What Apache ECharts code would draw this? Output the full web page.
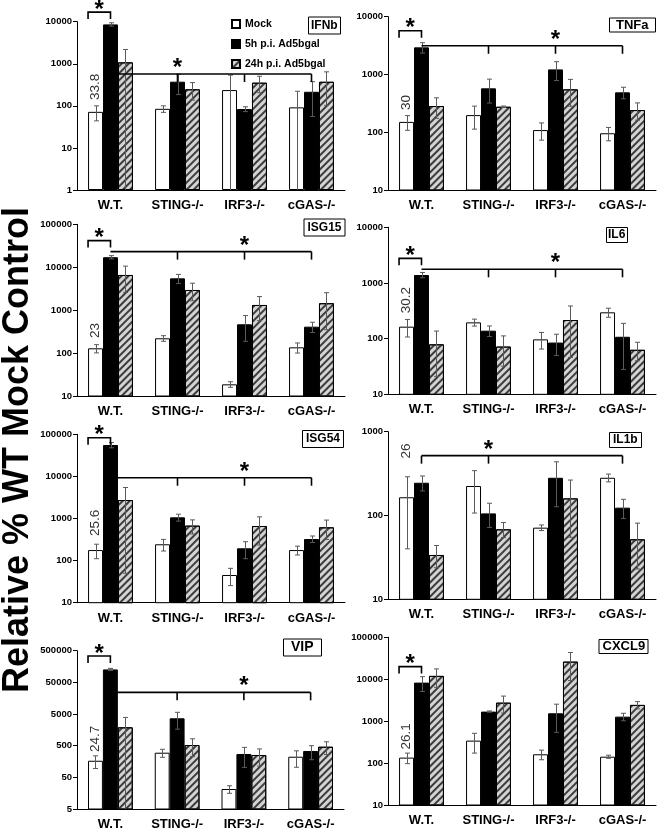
<!DOCTYPE html>
<html><head><meta charset="utf-8">
<script src="https://cdn.jsdelivr.net/npm/echarts@6/dist/echarts.min.js"></script>
<style>html,body{margin:0;padding:0;background:#fff}#c{width:660px;height:831px}</style>
</head><body><div id="c"></div>
<script>
const FONT = '"Liberation Sans", Arial, sans-serif';
const categories = ['W.T.', 'STING-/-', 'IRF3-/-', 'cGAS-/-'];
const seriesNames = ['Mock', '5h p.i. Ad5bgal', '24h p.i. Ad5bgal'];

// rows: Mock, 5h, 24h ; columns: categories
const IFNb_mean = [[72, 85, 237, 92], [8630, 375, 84, 216], [1080, 247, 355, 373]];
const IFNb_err  = [[28, 15, 300, 130], [800, 190, 11, 160], [1100, 110, 150, 270]];
const TNFa_mean = [[151, 198, 109, 96], [2945, 575, 1225, 490], [284, 276, 552, 242]];
const TNFa_err  = [[43, 85, 36, 25], [600, 255, 440, 110], [110, 8, 270, 80]];
const ISG15_mean = [[129, 221, 18.7, 136], [17100, 5500, 468, 412], [6600, 2950, 1320, 1450]];
const ISG15_err  = [[28, 33, 2.8, 36], [1500, 1300, 280, 110], [4000, 1300, 750, 1100]];
const IL6_mean = [[164, 196, 97, 297], [1390, 139, 85, 108], [79, 72, 216, 63]];
const IL6_err  = [[57, 28, 32, 55], [150, 30, 35, 80], [58, 40, 170, 23]];
const ISG54_mean = [[178, 244, 45.5, 178], [55700, 1066, 196, 326], [2750, 677, 664, 617]];
const ISG54_err  = [[67, 75, 20, 42], [8000, 200, 85, 58], [2700, 250, 430, 300]];
const IL1b_mean = [[165, 225, 71.6, 282], [246, 106, 282, 124], [33.8, 68.4, 160, 52]];
const IL1b_err  = [[125, 118, 5.5, 30], [50, 34, 155, 32], [10, 14, 105, 29]];
const VIP_mean = [[167, 300, 21.4, 224], [128000, 3660, 273, 340], [1900, 525, 254, 463]];
const VIP_err  = [[72, 85, 5.7, 120], [10000, 2000, 170, 160], [2000, 300, 140, 200]];
const CXCL9_mean = [[135, 343, 162, 142], [8300, 1690, 1540, 1280], [12000, 2760, 26300, 2440]];
const CXCL9_err  = [[38, 170, 42, 12], [3200, 60, 1000, 260], [5600, 1200, 17000, 480]];

// y tick labels
const IFNb_ticks = [1, 10, 100, 1000, 10000];
const TNFa_ticks = [10, 100, 1000, 10000];
const ISG15_ticks = [10, 100, 1000, 10000, 100000];
const IL6_ticks = [10, 100, 1000, 10000];
const ISG54_ticks = [10, 100, 1000, 10000, 100000];
const IL1b_ticks = [10, 100, 1000];
const VIP_ticks = [5, 50, 500, 5000, 50000, 500000];
const CXCL9_ticks = [10, 100, 1000, 10000, 100000];

// annotations (data coordinates)
const foldLabels = ['33.8', '30', '23', '30.2', '25.6', '26', '24.7', '26.1'];
const foldLabelBase = [137, 242, 225, 285, 384, 480, 315, 210];
const pairBracketLevel = [16900, 5700, 41700, 2770, 83000, null, 339000, 20000];
const groupBracketLevel = [570, 3140, 23100, 1760, 9310, 518, 24200, null];
const groupBracketDrops = [[1, 2, 3], [1, 2, 3], [1, 2, 3], [1, 2, 3], [1, 2, 3], [0, 1, 3], [1, 2, 3], null];
const groupStarCat = [1.14, 2, 2, 2, 2, 1.27, 2, null];

const panels = [
  {name: 'IFNb', mean: IFNb_mean, err: IFNb_err, ticks: IFNb_ticks, grid: {left: 77, top: 21.7, width: 268, height: 168.3}, t: {left: 308, top: 17, fs: 12, pad: [1.5, 3]}},
  {name: 'TNFa', mean: TNFa_mean, err: TNFa_err, ticks: TNFa_ticks, grid: {left: 388, top: 16.7, width: 268, height: 173.3}, t: {left: 609, top: 17.5, fs: 13, pad: [0, 7]}},
  {name: 'ISG15', mean: ISG15_mean, err: ISG15_err, ticks: ISG15_ticks, grid: {left: 77, top: 224.3, width: 268, height: 171.7}, t: {left: 304, top: 219, fs: 12, pad: [1.5, 3.5]}},
  {name: 'IL6', mean: IL6_mean, err: IL6_err, ticks: IL6_ticks, grid: {left: 388, top: 227.3, width: 268, height: 167}, t: {left: 606, top: 227, fs: 12, pad: [1, 2]}},
  {name: 'ISG54', mean: ISG54_mean, err: ISG54_err, ticks: ISG54_ticks, grid: {left: 77, top: 434.3, width: 268, height: 168.4}, t: {left: 302, top: 430, fs: 12, pad: [2, 4]}},
  {name: 'IL1b', mean: IL1b_mean, err: IL1b_err, ticks: IL1b_ticks, grid: {left: 388, top: 431.7, width: 268, height: 167.6}, t: {left: 609, top: 432, fs: 12, pad: [1, 4]}},
  {name: 'VIP', mean: VIP_mean, err: VIP_err, ticks: VIP_ticks, grid: {left: 77, top: 650.7, width: 267, height: 158.3}, t: {left: 283, top: 639, fs: 14, pad: [0.5, 8]}},
  {name: 'CXCL9', mean: CXCL9_mean, err: CXCL9_err, ticks: CXCL9_ticks, grid: {left: 388, top: 637.3, width: 268, height: 167.7}, t: {left: 599, top: 639, fs: 13, pad: [0, 3.5]}}
];

const CAT_GAP = 0.33;
const barStyles = [
  {color: '#ffffff', borderColor: '#000', borderWidth: 1},
  {color: '#000000', borderColor: '#000', borderWidth: 1},
  {color: '#d4d4d4', borderColor: '#000', borderWidth: 1,
   decal: {symbol: 'rect', symbolSize: 1, color: '#3c3c3c', dashArrayX: [1, 0], dashArrayY: [1.6, 2.2], rotation: -Math.PI / 4}}
];

function geom(api) {
  const a = api.coord([0, 10]), b = api.coord([1, 10]);
  const band = b[0] - a[0];
  return {band: band, bw: band * (1 - CAT_GAP) / 3};
}

function errRender(minVal) {
  return function (params, api) {
    const c = api.value(0), m = api.value(1), e = api.value(2), s = api.value(3);
    const g = geom(api);
    const x = Math.round(api.coord([c, m])[0] + (s - 1) * g.bw) + 0.5;
    const top = api.coord([c, m + e])[1];
    const lowOk = (m - e) > minVal;
    const bot = api.coord([c, lowOk ? m - e : minVal])[1];
    const st = {stroke: '#5a5a5a', lineWidth: 1};
    const cap = 2.5;
    const ch = [
      {type: 'line', shape: {x1: x, y1: top, x2: x, y2: bot}, style: st},
      {type: 'line', shape: {x1: x - cap, y1: top, x2: x + cap, y2: top}, style: st}
    ];
    if (lowOk) ch.push({type: 'line', shape: {x1: x - cap, y1: bot, x2: x + cap, y2: bot}, style: st});
    return {type: 'group', children: ch};
  };
}

function annRender(i) {
  return function (params, api) {
    const g = geom(api);
    const ch = [];
    const lst = {stroke: '#000', lineWidth: 1.6};
    const starFont = 'bold 24px ' + FONT;
    const cx = k => api.coord([k, 10])[0];
    const cy = v => api.coord([0, v])[1];
    if (pairBracketLevel[i] != null) {
      const y = cy(pairBracketLevel[i]);
      const xl = cx(0) - 1.5 * g.bw, xr = cx(0);
      ch.push({type: 'polyline', shape: {points: [[xl, y + 7], [xl, y], [xr, y], [xr, y + 7]]}, style: {stroke: '#000', lineWidth: 1.6, fill: null}});
      ch.push({type: 'text', style: {text: '*', x: (xl + xr) / 2, y: y - 2, textAlign: 'center', textVerticalAlign: 'middle', font: starFont, fill: '#000'}});
    }
    if (groupBracketLevel[i] != null) {
      const y = cy(groupBracketLevel[i]);
      ch.push({type: 'line', shape: {x1: cx(0), y1: y, x2: cx(3), y2: y}, style: lst});
      groupBracketDrops[i].forEach(k => {
        ch.push({type: 'line', shape: {x1: cx(k), y1: y, x2: cx(k), y2: y + 8}, style: lst});
      });
      const sx = api.coord([groupStarCat[i], 10])[0];
      ch.push({type: 'text', style: {text: '*', x: sx, y: y - 5.5, textAlign: 'center', textVerticalAlign: 'middle', font: starFont, fill: '#000'}});
    }
    const lx = cx(0) - g.bw, ly = cy(foldLabelBase[i]);
    ch.push({type: 'text', x: lx, y: ly, rotation: Math.PI / 2,
      style: {text: foldLabels[i], x: 0, y: 0, textAlign: 'left', textVerticalAlign: 'middle', font: '13.5px ' + FONT, fill: '#333'}});
    return {type: 'group', children: ch};
  };
}

const grid = [], xAxis = [], yAxis = [], series = [], title = [];
panels.forEach((p, i) => {
  grid.push(p.grid);
  xAxis.push({type: 'category', gridIndex: i, data: categories,
    axisLine: {lineStyle: {color: '#000', width: 1}},
    axisTick: {length: 4, lineStyle: {color: '#000'}},
    axisLabel: {interval: 0, hideOverlap: false, fontSize: 13, fontWeight: 'bold', color: '#000', margin: 9, fontFamily: FONT}});
  const y = {type: 'log', logBase: 10, gridIndex: i, min: p.ticks[0], max: p.ticks[p.ticks.length - 1],
    axisLine: {show: true, lineStyle: {color: '#000', width: 1}},
    axisTick: {show: true, length: 4, lineStyle: {color: '#000'}},
    splitLine: {show: false},
    axisLabel: {fontSize: 9.5, fontWeight: 'bold', color: '#000', margin: 5, fontFamily: FONT,
      formatter: v => String(Math.round(v))}};
  if (p.name === 'VIP') {
    y.axisLabel.customValues = p.ticks;
    y.axisTick.customValues = p.ticks;
  }
  yAxis.push(y);
  for (let s = 0; s < 3; s++) {
    series.push({type: 'bar', name: seriesNames[s], xAxisIndex: i, yAxisIndex: i, data: p.mean[s],
      barGap: '0%', barCategoryGap: (CAT_GAP * 100) + '%', itemStyle: barStyles[s], silent: true,
      emphasis: {disabled: true}, z: 2});
  }
  const ed = [];
  for (let s = 0; s < 3; s++) for (let c = 0; c < 4; c++) ed.push([c, p.mean[s][c], p.err[s][c], s]);
  series.push({type: 'custom', xAxisIndex: i, yAxisIndex: i, data: ed, renderItem: errRender(p.ticks[0]),
    encode: {x: 0, y: 1}, silent: true, z: 5});
  series.push({type: 'custom', xAxisIndex: i, yAxisIndex: i, data: [[0, p.ticks[1]]], renderItem: annRender(i),
    encode: {x: 0, y: 1}, silent: true, z: 6, clip: false});
  title.push({text: p.name, left: p.t.left, top: p.t.top, padding: p.t.pad, borderWidth: 1, borderColor: '#000',
    textStyle: {fontSize: p.t.fs, fontWeight: 'bold', color: '#000', fontFamily: FONT, lineHeight: p.t.fs + 2}});
});

const chart = echarts.init(document.getElementById('c'), null, {renderer: 'canvas'});
chart.setOption({
  animation: false,
  textStyle: {fontFamily: FONT},
  title: title,
  legend: {data: seriesNames, orient: 'vertical', left: 231, top: 18, itemWidth: 8, itemHeight: 8, itemGap: 8,
    padding: 0, selectedMode: false, icon: 'rect',
    textStyle: {fontSize: 10.5, fontWeight: 'bold', color: '#000', fontFamily: FONT, lineHeight: 12}},
  grid: grid, xAxis: xAxis, yAxis: yAxis, series: series,
  graphic: [{type: 'text', x: 18, y: 450, rotation: Math.PI / 2,
    style: {text: 'Relative % WT Mock Control', x: 0, y: 0, textAlign: 'center', textVerticalAlign: 'middle',
      font: 'bold 36px ' + FONT, fill: '#000'}}]
});
</script></body></html>
